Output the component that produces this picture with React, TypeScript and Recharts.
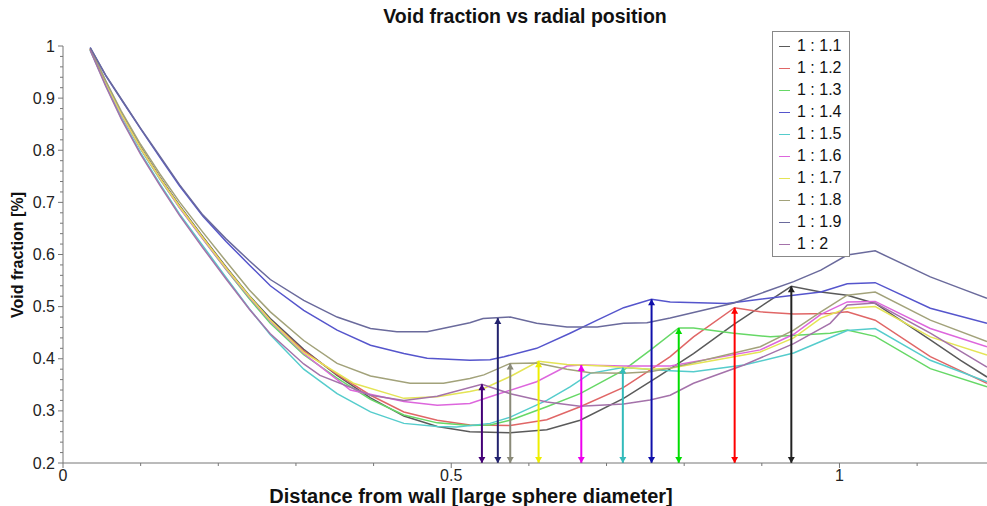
import { LineChart, Line, XAxis, YAxis } from "recharts";

// void fraction curves, [distance, void fraction] pairs
const r11: number[][] = [[0.035,0.995],[0.055,0.932],[0.075,0.872],[0.1,0.806],[0.125,0.748],[0.15,0.694],[0.18,0.634],[0.21,0.576],[0.24,0.521],[0.267,0.477],[0.31,0.418],[0.353,0.368],[0.396,0.325],[0.439,0.290],[0.482,0.270],[0.524,0.260],[0.576,0.258],[0.623,0.264],[0.666,0.282],[0.722,0.324],[0.769,0.368],[0.812,0.410],[0.864,0.466],[0.938,0.539],[0.976,0.528],[1.01,0.522],[1.046,0.506],[1.117,0.436],[1.156,0.397],[1.19,0.365]];
const r12: number[][] = [[0.035,0.994],[0.055,0.930],[0.075,0.870],[0.1,0.804],[0.125,0.746],[0.15,0.692],[0.18,0.632],[0.21,0.574],[0.24,0.518],[0.267,0.474],[0.31,0.415],[0.353,0.370],[0.396,0.330],[0.439,0.298],[0.482,0.282],[0.524,0.273],[0.576,0.272],[0.623,0.283],[0.666,0.308],[0.722,0.345],[0.756,0.378],[0.782,0.404],[0.812,0.442],[0.865,0.498],[0.898,0.490],[0.941,0.486],[0.988,0.487],[1.01,0.490],[1.046,0.474],[1.117,0.404],[1.19,0.353]];
const r13: number[][] = [[0.035,0.993],[0.055,0.928],[0.075,0.868],[0.1,0.802],[0.125,0.744],[0.15,0.690],[0.18,0.630],[0.21,0.571],[0.24,0.515],[0.267,0.468],[0.31,0.408],[0.353,0.363],[0.396,0.322],[0.439,0.292],[0.482,0.277],[0.524,0.272],[0.55,0.273],[0.576,0.282],[0.623,0.308],[0.666,0.333],[0.722,0.378],[0.756,0.416],[0.793,0.459],[0.812,0.459],[0.864,0.449],[0.911,0.442],[0.988,0.449],[1.01,0.455],[1.046,0.443],[1.117,0.381],[1.19,0.346]];
const r14: number[][] = [[0.035,0.997],[0.055,0.943],[0.077,0.893],[0.1,0.841],[0.125,0.786],[0.15,0.732],[0.18,0.674],[0.21,0.625],[0.24,0.580],[0.267,0.540],[0.31,0.493],[0.353,0.455],[0.396,0.426],[0.439,0.410],[0.469,0.401],[0.524,0.397],[0.55,0.398],[0.568,0.404],[0.61,0.420],[0.653,0.449],[0.688,0.474],[0.722,0.498],[0.758,0.514],[0.782,0.509],[0.855,0.506],[0.941,0.522],[0.976,0.528],[1.01,0.544],[1.046,0.546],[1.117,0.497],[1.19,0.468]];
const r15: number[][] = [[0.035,0.992],[0.055,0.925],[0.075,0.862],[0.1,0.795],[0.125,0.735],[0.15,0.678],[0.18,0.617],[0.21,0.556],[0.24,0.496],[0.267,0.446],[0.31,0.380],[0.353,0.333],[0.396,0.298],[0.439,0.276],[0.482,0.270],[0.507,0.269],[0.55,0.276],[0.576,0.288],[0.623,0.320],[0.653,0.346],[0.679,0.372],[0.721,0.383],[0.782,0.377],[0.812,0.375],[0.877,0.388],[0.941,0.411],[0.976,0.433],[1.01,0.454],[1.046,0.458],[1.117,0.397],[1.19,0.356]];
const r16: number[][] = [[0.035,0.994],[0.055,0.930],[0.075,0.869],[0.1,0.803],[0.125,0.745],[0.15,0.690],[0.18,0.630],[0.21,0.572],[0.24,0.518],[0.267,0.472],[0.31,0.410],[0.37,0.340],[0.439,0.318],[0.482,0.311],[0.524,0.314],[0.55,0.327],[0.61,0.356],[0.649,0.386],[0.6675,0.388],[0.722,0.386],[0.782,0.386],[0.898,0.417],[0.941,0.447],[0.976,0.485],[1.01,0.509],[1.046,0.510],[1.117,0.458],[1.19,0.423]];
const r17: number[][] = [[0.035,0.994],[0.055,0.930],[0.075,0.870],[0.1,0.804],[0.125,0.746],[0.15,0.692],[0.18,0.632],[0.21,0.574],[0.24,0.520],[0.267,0.474],[0.31,0.412],[0.374,0.353],[0.439,0.324],[0.482,0.327],[0.524,0.337],[0.542,0.343],[0.576,0.366],[0.6125,0.395],[0.649,0.389],[0.696,0.386],[0.756,0.380],[0.782,0.382],[0.898,0.413],[0.941,0.440],[0.976,0.478],[1.01,0.497],[1.046,0.500],[1.117,0.442],[1.19,0.407]];
const r18: number[][] = [[0.035,0.995],[0.055,0.933],[0.075,0.875],[0.1,0.811],[0.125,0.754],[0.15,0.701],[0.18,0.643],[0.21,0.587],[0.24,0.532],[0.267,0.490],[0.31,0.435],[0.353,0.391],[0.396,0.367],[0.447,0.353],[0.49,0.353],[0.524,0.362],[0.542,0.369],[0.576,0.391],[0.61,0.392],[0.649,0.380],[0.679,0.373],[0.722,0.372],[0.756,0.375],[0.782,0.382],[0.898,0.423],[0.941,0.455],[0.976,0.490],[1.01,0.522],[1.046,0.528],[1.117,0.474],[1.19,0.433]];
const r19: number[][] = [[0.035,0.997],[0.055,0.944],[0.077,0.894],[0.1,0.842],[0.125,0.788],[0.15,0.734],[0.18,0.676],[0.21,0.630],[0.24,0.588],[0.267,0.552],[0.31,0.512],[0.353,0.480],[0.396,0.458],[0.43,0.452],[0.469,0.452],[0.524,0.469],[0.541,0.477],[0.576,0.480],[0.61,0.468],[0.649,0.461],[0.688,0.461],[0.722,0.468],[0.752,0.469],[0.782,0.478],[0.864,0.507],[0.941,0.548],[0.976,0.570],[1.01,0.599],[1.046,0.607],[1.117,0.557],[1.156,0.535],[1.19,0.516]];
const r20: number[][] = [[0.035,0.992],[0.055,0.923],[0.075,0.860],[0.1,0.792],[0.125,0.732],[0.15,0.675],[0.18,0.613],[0.21,0.553],[0.24,0.495],[0.267,0.448],[0.31,0.390],[0.331,0.368],[0.396,0.330],[0.439,0.320],[0.482,0.328],[0.5395,0.351],[0.576,0.333],[0.623,0.317],[0.666,0.309],[0.722,0.313],[0.756,0.321],[0.782,0.330],[0.812,0.353],[0.877,0.388],[0.941,0.429],[0.988,0.468],[1.01,0.503],[1.046,0.507],[1.117,0.449],[1.19,0.384]];

const ratioNames = ["1 : 1.1", "1 : 1.2", "1 : 1.3", "1 : 1.4", "1 : 1.5", "1 : 1.6", "1 : 1.7", "1 : 1.8", "1 : 1.9", "1 : 2"];
const curveColors = ["#5a5a5a", "#e06666", "#66d866", "#5555cc", "#55cccc", "#dd66dd", "#e4e455", "#a2a27a", "#6a6a9c", "#a472aa"];
const arrowColors = ["#222222", "#ff0000", "#00dd00", "#1010aa", "#33bbbb", "#ee00ee", "#eeee00", "#8a8a78", "#22226e", "#440077"];

// peak marked by an arrow for each ratio
const peakX = [0.938, 0.865, 0.793, 0.758, 0.721, 0.6675, 0.6125, 0.576, 0.56, 0.5395];
const peakY = [0.539, 0.498, 0.459, 0.514, 0.383, 0.388, 0.395, 0.391, 0.478, 0.351];
const arrowBase = 0.2;

const xTicks = [0, 0.1, 0.2, 0.3, 0.4, 0.5, 0.6, 0.7, 0.8, 0.9, 1, 1.1];
const xTickLabels = ["0", "", "", "", "", "0.5", "", "", "", "", "1", ""];
const yTicks = [0.2, 0.22, 0.24, 0.26, 0.28, 0.3, 0.32, 0.34, 0.36, 0.38, 0.4, 0.42, 0.44, 0.46, 0.48, 0.5, 0.52, 0.54, 0.56, 0.58, 0.6, 0.62, 0.64, 0.66, 0.68, 0.7, 0.72, 0.74, 0.76, 0.78, 0.8, 0.82, 0.84, 0.86, 0.88, 0.9, 0.92, 0.94, 0.96, 0.98, 1];
const yTickLabels: Record<string, string> = { "0.2": "0.2", "0.3": "0.3", "0.4": "0.4", "0.5": "0.5", "0.6": "0.6", "0.7": "0.7", "0.8": "0.8", "0.9": "0.9", "1": "1" };

const series = [r11, r12, r13, r14, r15, r16, r17, r18, r19, r20];
const FONT = "'Liberation Sans', Arial, Helvetica, sans-serif";

function YTick(props: any) {
    const { x, y, payload } = props;
    const label = yTickLabels[String(payload.value)];
    return (
        <g>
            <line x1={x - (label ? 5 : 3)} x2={x} y1={y} y2={y} stroke="#777" strokeWidth={1} />
            {label && (
                <text x={x - 8} y={y} dy={5.5} textAnchor="end" fontSize={16} fontFamily={FONT} fill="#222">
                    {label}
                </text>
            )}
        </g>
    );
}

function XTick(props: any) {
    const { x, y, index } = props;
    const label = xTickLabels[index];
    return (
        <g>
            <line x1={x} x2={x} y1={y} y2={y + (label ? 5 : 3)} stroke="#777" strokeWidth={1} />
            {label && (
                <text x={x} y={y + 18} textAnchor="middle" fontSize={16} fontFamily={FONT} fill="#222">
                    {label}
                </text>
            )}
        </g>
    );
}

const arrowHead = (color: string) => (props: any) => {
    const { cx, cy, index } = props;
    const up = index === 1;
    const h = 6;
    const w = 3.5;
    const b = up ? cy + h : cy - h;
    return <polygon key={`ah-${index}`} points={`${cx},${cy} ${cx - w},${b} ${cx + w},${b}`} fill={color} />;
};

export default function App() {
    return (
        <div style={{ position: "absolute", left: 0, top: 0, width: 987, height: 506, background: "#fff", fontFamily: FONT }}>
            <div style={{ position: "absolute", left: 525, top: 7, transform: "translateX(-50%)", fontSize: 19.5, lineHeight: 1, fontWeight: "bold", whiteSpace: "nowrap", color: "#111" }}>
                Void fraction vs radial position
            </div>
            <LineChart width={987} height={506} margin={{ top: 46, right: 0, left: 0, bottom: 0 }}>
                <XAxis
                    type="number"
                    dataKey="x"
                    domain={[0, 1.19]}
                    allowDataOverflow
                    ticks={xTicks}
                    interval={0}
                    height={43}
                    tickSize={0}
                    tickMargin={0}
                    tick={<XTick />}
                    tickLine={false}
                    axisLine={{ stroke: "#777" }}
                />
                <YAxis
                    type="number"
                    domain={[0.2, 1]}
                    allowDataOverflow
                    ticks={yTicks}
                    interval={0}
                    width={63}
                    tickSize={0}
                    tickMargin={0}
                    tick={<YTick />}
                    tickLine={false}
                    axisLine={{ stroke: "#777" }}
                />
                {series.map((s, i) => (
                    <Line
                        key={ratioNames[i]}
                        data={s.map(([x, y]) => ({ x, y }))}
                        dataKey="y"
                        type="linear"
                        stroke={curveColors[i]}
                        strokeWidth={1.5}
                        dot={false}
                        isAnimationActive={false}
                    />
                ))}
                {peakX.map((px, i) => (
                    <Line
                        key={`arrow-${ratioNames[i]}`}
                        data={[{ x: px, y: arrowBase }, { x: px, y: peakY[i] }]}
                        dataKey="y"
                        type="linear"
                        stroke={arrowColors[i]}
                        strokeWidth={2}
                        dot={arrowHead(arrowColors[i])}
                        activeDot={false}
                        legendType="none"
                        isAnimationActive={false}
                    />
                ))}
            </LineChart>
            <div style={{ position: "absolute", left: 471, top: 486, transform: "translateX(-50%)", fontSize: 20, lineHeight: 1, fontWeight: "bold", whiteSpace: "nowrap", color: "#111" }}>
                Distance from wall [large sphere diameter]
            </div>
            <div style={{ position: "absolute", left: 18, top: 255, transform: "translate(-50%, -50%) rotate(-90deg)", fontSize: 16, lineHeight: 1, fontWeight: "bold", whiteSpace: "nowrap", color: "#111" }}>
                Void fraction [%]
            </div>
            <div style={{ position: "absolute", left: 772, top: 31, width: 76, height: 224, border: "1px solid #888", background: "#fff" }}>
                {ratioNames.map((name, i) => (
                    <div key={name} style={{ position: "absolute", left: 6, top: 4 + 22 * i, height: 20, display: "flex", alignItems: "center", whiteSpace: "nowrap" }}>
                        <span style={{ display: "inline-block", width: 11, height: 0, borderTop: `1.5px solid ${curveColors[i]}`, marginRight: 7 }} />
                        <span style={{ fontSize: 16, color: "#111" }}>{name}</span>
                    </div>
                ))}
            </div>
        </div>
    );
}
